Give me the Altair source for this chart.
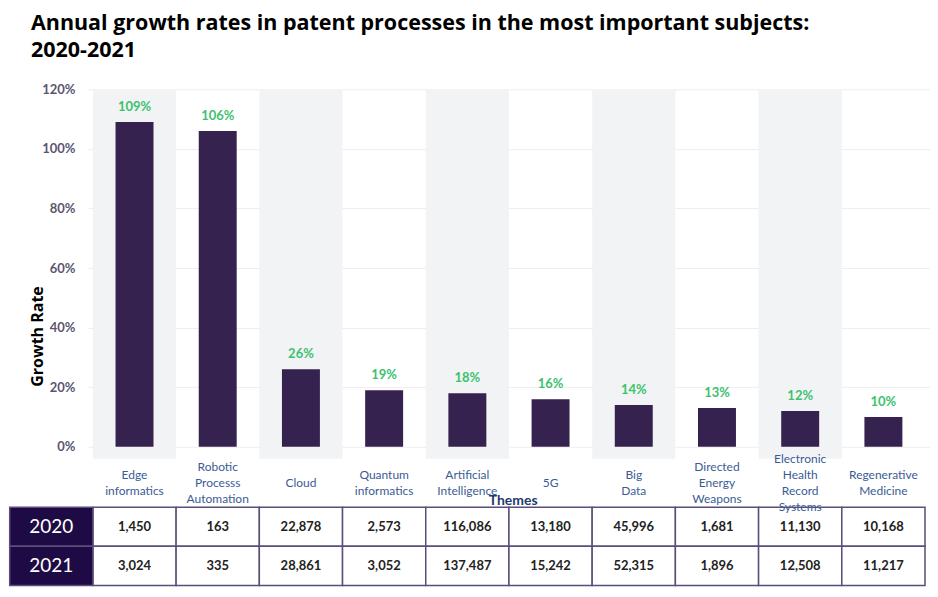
import altair as alt
import pandas as pd

themes = ["Edge informatics", "Robotic Processs Automation", "Cloud", "Quantum informatics",
          "Artificial Intelligence", "5G", "Big Data", "Directed Energy Weapons",
          "Electronic Health Record Systems", "Regenerative Medicine"]
labels = ["Edge\ninformatics", "Robotic\nProcesss\nAutomation", "Cloud", "Quantum\ninformatics",
          "Artificial\nIntelligence", "5G", "Big\nData", "Directed\nEnergy\nWeapons",
          "Electronic\nHealth\nRecord\nSystems", "Regenerative\nMedicine"]
growth = [109, 106, 26, 19, 18, 16, 14, 13, 12, 10]
years = ["2020", "2021"]
v2020 = [1450, 163, 22878, 2573, 116086, 13180, 45996, 1681, 11130, 10168]
v2021 = [3024, 335, 28861, 3052, 137487, 15242, 52315, 1896, 12508, 11217]

FONT = "Lato"
TFONT = "Open Sans"
H = 358
PX = H / 120.0          # pixels per growth-rate unit
LH = 16                 # label line height in px

n = len(themes)
df = pd.DataFrame({
    "theme": themes, "label": labels, "growth": growth,
    "xc": [i + 0.5 for i in range(n)], "x0": list(range(n)), "x1": [i + 1 for i in range(n)],
    "band": [i % 2 == 0 for i in range(n)],
})
df["glabel"] = df["growth"].astype(str) + "%"
# vertically centre each multi-line label block around the same level
label_centre = -12.0
df["nlines"] = df["label"].str.count("\n") + 1
df["ly"] = label_centre + (df["nlines"] - 1) * (LH / 2.0) / PX

# table rows (in growth-rate units below the zero line)
row_edges = [-20.3, -33.4, -46.5]
rows = []
for r, (yr, vals) in enumerate(zip(years, [v2020, v2021])):
    for i, v in enumerate(vals):
        rows.append({"year": yr, "value": v, "x0": i, "x1": i + 1, "xc": i + 0.5,
                     "y0": row_edges[r], "y1": row_edges[r + 1],
                     "yc": (row_edges[r] + row_edges[r + 1]) / 2})
tdf = pd.DataFrame(rows)
hdf = pd.DataFrame({"year": years, "x0": [-1, -1], "x1": [0, 0], "xc": [-0.5, -0.5],
                    "y0": row_edges[:2], "y1": row_edges[1:],
                    "yc": [(row_edges[k] + row_edges[k + 1]) / 2 for k in range(2)]})

xs = alt.Scale(domain=[0, 10], nice=False, zero=False)
ys = alt.Scale(domain=[0, 120], nice=False, zero=False)

base = alt.Chart(df)

bands = base.transform_filter("datum.band").mark_rect(color="#f2f3f5").encode(
    x=alt.X("x0:Q", scale=xs, axis=None), x2="x1:Q",
    y=alt.datum(120, scale=ys), y2=alt.datum(-4))

bars = base.mark_bar(size=38, color="#35224f").encode(
    x=alt.X("xc:Q", scale=xs, axis=None),
    y=alt.Y("growth:Q", scale=ys, axis=alt.Axis(
        values=[0, 20, 40, 60, 80, 100, 120], labelExpr="datum.value + '%'",
        domain=False, ticks=False, labelColor="#5b5670", labelFontSize=13,
        labelFontWeight="bold", labelFont=FONT, labelPadding=13,
        grid=True, gridColor="#eeeeee",
        title="Growth Rate", titleFont=TFONT, titleFontSize=16, titleFontWeight="bold",
        titleColor="#000000", titleX=-50, titleY=247, titleAngle=270,
        titleAlign="center", titleBaseline="middle")))

vals = base.mark_text(dy=-8, baseline="bottom", color="#3cc26e", fontWeight="bold",
                      fontSize=13, font=FONT).encode(
    x=alt.X("xc:Q", scale=xs), y=alt.Y("growth:Q", scale=ys), text="glabel:N")

themes_title = alt.Chart(pd.DataFrame({"t": ["Themes"]})).mark_text(
    color="#1f3a6e", fontWeight="bold", fontSize=14, font=FONT, baseline="middle").encode(
    x=alt.datum(5.05, scale=xs), y=alt.datum(-18.2, scale=ys), text="t:N")

cells = alt.Chart(tdf).mark_rect(fill="#ffffff", stroke="#5b4e7a", strokeWidth=1.5).encode(
    x=alt.X("x0:Q", scale=xs), x2="x1:Q", y=alt.Y("y0:Q", scale=ys), y2="y1:Q")
celltext = alt.Chart(tdf).mark_text(fontWeight="bold", fontSize=13, font=FONT,
                                    color="#222222", baseline="middle").encode(
    x=alt.X("xc:Q", scale=xs), y=alt.Y("yc:Q", scale=ys),
    text=alt.Text("value:Q", format=","))
hcells = alt.Chart(hdf).mark_rect(fill="#1e0b45", stroke="#5b4e7a", strokeWidth=1.5).encode(
    x=alt.X("x0:Q", scale=xs), x2="x1:Q", y=alt.Y("y0:Q", scale=ys), y2="y1:Q")
htext = alt.Chart(hdf).mark_text(fontSize=19, font=FONT, color="#ffffff",
                                 baseline="middle").encode(
    x=alt.X("xc:Q", scale=xs), y=alt.Y("yc:Q", scale=ys), text="year:N")

xlab = base.mark_text(lineBreak="\n", baseline="middle", color="#3b5b95", fontSize=12,
                      font=FONT, lineHeight=LH).encode(
    x=alt.X("xc:Q", scale=xs), y=alt.Y("ly:Q", scale=ys), text="label:N")

chart = alt.layer(bands, bars, vals, cells, celltext, hcells, htext, themes_title, xlab).properties(
    width=843, height=H,
    padding={"left": 0, "top": 4, "right": 0, "bottom": 0},
    title=alt.TitleParams(
        ["Annual growth rates in patent processes in the most important subjects:", "2020-2021"],
        anchor="start", frame="group", dx=-57, offset=22, fontSize=21.5, font=TFONT,
        fontWeight="bold", color="#000000", lineHeight=27),
).configure_view(stroke=None)

chart.save("out.html", embed_options={"renderer": "svg", "actions": False})
